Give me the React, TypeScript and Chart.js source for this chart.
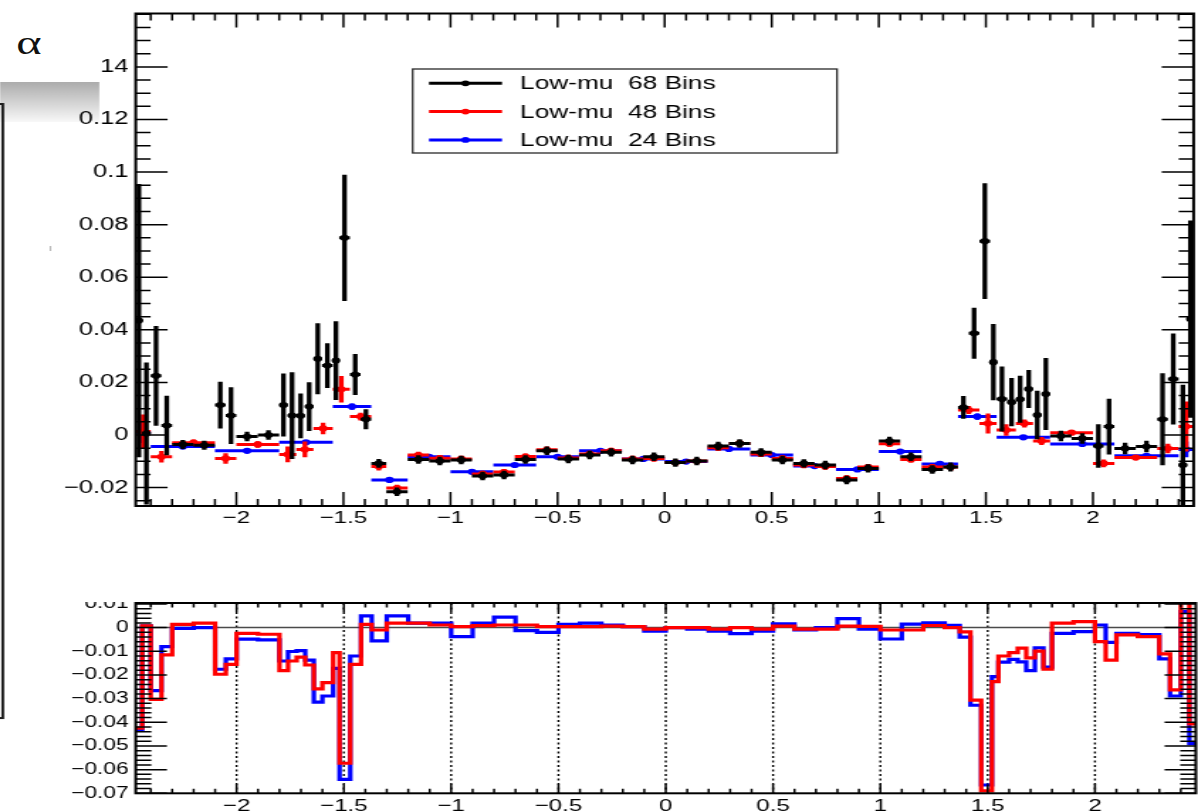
import React, { useEffect, useRef } from 'react';
import { Chart, registerables } from 'chart.js';

Chart.register(...registerables);

// ---------------- data ----------------
const seriesLabels = ['Low-mu  68 Bins', 'Low-mu  48 Bins', 'Low-mu  24 Bins'];
const seriesColors = ['#000000', '#ff0000', '#0000ff'];

const edges68 = [-2.47, -2.44, -2.4, -2.35, -2.3, -2.2, -2.1, -2.05, -2.0, -1.9, -1.8, -1.76, -1.72, -1.68, -1.64, -1.6, -1.55, -1.52, -1.47, -1.42, -1.37, -1.3, -1.2, -1.1, -1.0, -0.9, -0.8, -0.7, -0.6, -0.5, -0.4, -0.3, -0.2, -0.1, 0, 0.1, 0.2, 0.3, 0.4, 0.5, 0.6, 0.7, 0.8, 0.9, 1.0, 1.1, 1.2, 1.3, 1.37, 1.42, 1.47, 1.52, 1.55, 1.6, 1.64, 1.68, 1.72, 1.76, 1.8, 1.9, 2.0, 2.05, 2.1, 2.2, 2.3, 2.35, 2.4, 2.44, 2.47];
const values68 = [
  0.0435, 0.0006, 0.0225, 0.0036, -0.0036, -0.0039, 0.0114, 0.0074, -0.0006, 0.0,
  0.0114, 0.0074, 0.0073, 0.0108, 0.029, 0.0264, 0.0283, 0.075, 0.023, 0.006,
  -0.0108, -0.0216, -0.0093, -0.0099, -0.0095, -0.0156, -0.0152, -0.0093, -0.006, -0.0091,
  -0.0076, -0.0066, -0.0095, -0.0083, -0.0105, -0.0099, -0.0042, -0.0032, -0.0066, -0.0095,
  -0.0108, -0.0114, -0.0171, -0.0127, -0.0023, -0.0083, -0.0131, -0.0122, 0.0105, 0.0387,
  0.0737, 0.0277, 0.0137, 0.0125, 0.0136, 0.0175, 0.0076, 0.0156, -0.0004, -0.0013,
  -0.0042, 0.0032, -0.0051, -0.0044, 0.006, 0.0213, -0.0114, 0.0441,
];
const errors68 = [
  0.052, 0.027, 0.019, 0.0113, 0.0017, 0.0017, 0.0089, 0.0108, 0.0018, 0.0018,
  0.012, 0.0165, 0.0085, 0.0093, 0.0135, 0.0085, 0.015, 0.024, 0.0078, 0.0038,
  0.0017, 0.0016, 0.0016, 0.0016, 0.0016, 0.0016, 0.0016, 0.0016, 0.0016, 0.0016,
  0.0016, 0.0016, 0.0016, 0.0016, 0.0016, 0.0016, 0.0016, 0.0016, 0.0016, 0.0016,
  0.0016, 0.0016, 0.0016, 0.0016, 0.0016, 0.0016, 0.0016, 0.0017, 0.0043, 0.0097,
  0.022, 0.0145, 0.0124, 0.0092, 0.0089, 0.0072, 0.0092, 0.0137, 0.002, 0.002,
  0.0083, 0.0106, 0.0022, 0.0022, 0.0175, 0.0173, 0.0305, 0.0375,
];

const edges48 = [-2.47, -2.4, -2.3, -2.1, -2.0, -1.8, -1.72, -1.64, -1.55, -1.47, -1.37, -1.3, -1.2, -1.1, -1.0, -0.9, -0.8, -0.7, -0.6, -0.5, -0.4, -0.3, -0.2, -0.1, 0, 0.1, 0.2, 0.3, 0.4, 0.5, 0.6, 0.7, 0.8, 0.9, 1.0, 1.1, 1.2, 1.3, 1.37, 1.47, 1.55, 1.64, 1.72, 1.8, 2.0, 2.1, 2.3, 2.4, 2.47];
const values48 = [
  0.0013, -0.0083, -0.0029, -0.0089, -0.0036, -0.0074, -0.0055, 0.0025, 0.0174, 0.007,
  -0.012, -0.0202, -0.0076, -0.0088, -0.0091, -0.0148, -0.0141, -0.0082, -0.0056, -0.0087,
  -0.0072, -0.006, -0.0091, -0.0089, -0.0105, -0.0099, -0.0048, -0.0032, -0.0072, -0.0089,
  -0.0114, -0.012, -0.0165, -0.0122, -0.0033, -0.0093, -0.0122, -0.0122, 0.0095, 0.0044,
  0.0019, 0.0044, -0.0023, 0.0009, -0.0108, -0.0086, -0.0051, 0.0032,
];
const errors48 = [
  0.0065, 0.0022, 0.0012, 0.002, 0.0012, 0.003, 0.003, 0.0022, 0.005, 0.0015,
  0.0015, 0.0013, 0.0012, 0.0012, 0.0012, 0.0012, 0.0012, 0.0012, 0.0012, 0.0012,
  0.0012, 0.0012, 0.0012, 0.0012, 0.0012, 0.0012, 0.0012, 0.0012, 0.0012, 0.0012,
  0.0012, 0.0012, 0.0012, 0.0012, 0.0012, 0.0012, 0.0012, 0.0015, 0.0015, 0.0038,
  0.0022, 0.0015, 0.0015, 0.0008, 0.0015, 0.0008, 0.0018, 0.0095,
];

const edges24 = [-2.47, -2.4, -2.1, -1.8, -1.55, -1.37, -1.2, -1.0, -0.8, -0.6, -0.4, -0.2, 0, 0.2, 0.4, 0.6, 0.8, 1.0, 1.2, 1.37, 1.55, 1.8, 2.1, 2.4, 2.47];
const values24 = [
  0.001, -0.0044, -0.006, -0.0028, 0.0108, -0.0171, -0.0083, -0.014, -0.0114, -0.0083,
  -0.006, -0.0091, -0.0101, -0.0053, -0.0076, -0.0118, -0.0131, -0.0063, -0.011, 0.007,
  -0.0009, -0.0034, -0.0079, -0.0055,
];
const errors24 = [
  0.004, 0.0008, 0.0008, 0.0008, 0.0012, 0.0008, 0.0006, 0.0006, 0.0006, 0.0006,
  0.0006, 0.0006, 0.0006, 0.0006, 0.0006, 0.0006, 0.0006, 0.0006, 0.0008, 0.0012,
  0.0008, 0.0008, 0.0008, 0.003,
];

// lower panel: difference to the 68-bin result, on the 68-bin grid
const diffRed68 = [
  -0.0425, 0.0007, -0.0303, -0.0115, 0.0014, 0.0019, -0.0197, -0.0155, -0.0024, -0.0028,
  -0.0182, -0.0141, -0.0125, -0.0158, -0.0259, -0.0232, -0.0106, -0.0573, -0.0155, 0.0014,
  -0.001, 0.0019, 0.0019, 0.0011, 0.0004, 0.0008, 0.0011, 0.0011, 0.0004, 0.0004,
  0.0004, 0.0006, 0.0004, -0.0006, 0.0, 0.0, -0.0006, 0.0, -0.0006, 0.0006,
  -0.0006, -0.0006, 0.0006, 0.0005, -0.001, -0.001, 0.0009, 0.0, -0.0018, -0.0306,
  -0.069, -0.0228, -0.012, -0.0106, -0.0087, -0.0128, -0.0099, -0.0176, 0.0019, 0.0025,
  -0.0059, -0.0137, -0.0031, -0.0038, -0.0111, -0.0263, 0.0146, -0.0407,
];
const diffBlue68 = [
  -0.043, 0.0007, -0.0266, -0.008, -0.0003, 0.0, -0.0176, -0.0132, -0.0049, -0.0052,
  -0.0141, -0.0101, -0.0097, -0.0137, -0.0315, -0.0289, -0.0172, -0.0641, -0.012, 0.005,
  -0.0056, 0.005, 0.0019, 0.0019, -0.0038, 0.0019, 0.0044, -0.0013, -0.002, 0.0014,
  0.0019, 0.0011, 0.0004, -0.0015, 0.0, -0.0006, -0.0015, -0.0025, -0.0015, 0.0016,
  -0.001, 0.0, 0.0038, -0.0006, -0.0048, 0.0015, 0.002, 0.001, -0.004, -0.0328,
  -0.0665, -0.0207, -0.0146, -0.0134, -0.0145, -0.0182, -0.0085, -0.0167, -0.0024, -0.0017,
  0.0011, -0.0062, -0.0024, -0.003, -0.0132, -0.0289, 0.0068, -0.049,
];

const xTickValues = [-2, -1.5, -1, -0.5, 0, 0.5, 1, 1.5, 2];
const xTickLabels = ['\u22122', '\u22121.5', '\u22121', '\u22120.5', '0', '0.5', '1', '1.5', '2'];
const topYTickValues = [-0.02, 0, 0.02, 0.04, 0.06, 0.08, 0.1, 0.12, 0.14];
const topYTickLabels = ['\u22120.02', '0', '0.02', '0.04', '0.06', '0.08', '0.1', '0.12', '0.14'];
const botYTickValues = [-0.07, -0.06, -0.05, -0.04, -0.03, -0.02, -0.01, 0, 0.01];
const botYTickLabels = ['\u22120.07', '\u22120.06', '\u22120.05', '\u22120.04', '\u22120.03', '\u22120.02', '\u22120.01', '0', '0.01'];

const X_MIN = -2.47, X_MAX = 2.47;
const TOP_Y_MIN = -0.027, TOP_Y_MAX = 0.1603;
const BOT_Y_MIN = -0.07, BOT_Y_MAX = 0.0104;

// ---------------- geometry / style ----------------
const FONT = '"Liberation Sans", Arial, Helvetica, sans-serif';
const CW = 844;                    // internal drawing width
const STRETCH = 1198 / CW;         // the picture is stretched horizontally
const AREA_LEFT = 135.7 / STRETCH;
const AREA_RIGHT = 1195.8 / STRETCH;
const TOP_H = 560, TOP_AREA_TOP = 13.5, TOP_AREA_BOTTOM = 506;
const BOT_TOP = 602, BOT_H = 210, BOT_AREA_TOP = 1, BOT_AREA_BOTTOM = 793.3 - 602;

type BinPt = { x: number; y: number; xl: number; xh: number; e: number };

function binned(edges: number[], vals: number[], errs: number[]): BinPt[] {
  return vals.map((v, i) => ({ x: (edges[i] + edges[i + 1]) / 2, y: v, xl: edges[i], xh: edges[i + 1], e: errs[i] }));
}

function steps(edges: number[], vals: number[]) {
  const pts = vals.map((v, i) => ({ x: edges[i], y: v }));
  pts.push({ x: edges[edges.length - 1], y: vals[vals.length - 1] });
  return pts;
}

function range(min: number, max: number, step: number) {
  const out: number[] = [];
  for (let i = Math.ceil(min / step - 1e-7); i <= Math.floor(max / step + 1e-7); i++) out.push(i * step);
  return out;
}

function labelFor(values: number[], labels: string[]) {
  return (v: any) => {
    const i = values.findIndex((t) => Math.abs(t - Number(v)) < 1e-9);
    return i >= 0 ? labels[i] : '';
  };
}

const errorBarPlugin = {
  id: 'errorBars',
  beforeDatasetDraw(chart: any, args: any) {
    const ds = chart.data.datasets[args.index];
    if (!ds.binnedErrors) return;
    const { ctx, chartArea: a } = chart;
    const xs = chart.scales.x, ys = chart.scales.y;
    ctx.save();
    ctx.beginPath();
    ctx.rect(a.left, a.top, a.right - a.left, a.bottom - a.top);
    ctx.clip();
    ctx.strokeStyle = ds.borderColor;
    ctx.lineCap = 'butt';
    for (const p of ds.data as BinPt[]) {
      const px = xs.getPixelForValue(p.x);
      const py = ys.getPixelForValue(p.y);
      ctx.lineWidth = 3;
      ctx.beginPath();
      ctx.moveTo(xs.getPixelForValue(p.xl), py);
      ctx.lineTo(xs.getPixelForValue(p.xh), py);
      ctx.stroke();
      ctx.lineWidth = 3.3;
      ctx.beginPath();
      ctx.moveTo(px, ys.getPixelForValue(p.y - p.e));
      ctx.lineTo(px, ys.getPixelForValue(p.y + p.e));
      ctx.stroke();
    }
    ctx.restore();
  },
};

function drawLegend(chart: any) {
  const ctx = chart.ctx;
  const x0 = 412.7 / STRETCH, x1 = 837 / STRETCH, y0 = 69, y1 = 153;
  ctx.save();
  ctx.fillStyle = '#ffffff';
  ctx.fillRect(x0, y0, x1 - x0, y1 - y0);
  ctx.strokeStyle = '#2a2a2a';
  ctx.lineWidth = 1.3;
  ctx.strokeRect(x0, y0, x1 - x0, y1 - y0);
  const la = 429 / STRETCH, lb = 502 / STRETCH;
  chart.data.datasets.forEach((ds: any, i: number) => {
    const y = 83.3 + i * 28.3;
    ctx.strokeStyle = ds.borderColor;
    ctx.lineWidth = 3;
    ctx.beginPath();
    ctx.moveTo(la, y);
    ctx.lineTo(lb, y);
    ctx.stroke();
    ctx.fillStyle = ds.borderColor;
    ctx.beginPath();
    ctx.arc((la + lb) / 2, y, 2.9, 0, Math.PI * 2);
    ctx.fill();
    ctx.fillStyle = '#000000';
    ctx.font = `18.5px ${FONT}`;
    ctx.textBaseline = 'middle';
    ctx.textAlign = 'left';
    ctx.fillText(ds.label, 520 / STRETCH, y + 1);
  });
  ctx.restore();
}

function framePlugin(cfg: any) {
  return {
    id: 'rootFrame',
    beforeDatasetsDraw(chart: any) {
      if (!cfg.grid) return;
      const { ctx, chartArea: a } = chart;
      const xs = chart.scales.x, ys = chart.scales.y;
      ctx.save();
      ctx.strokeStyle = '#000000';
      ctx.lineWidth = 1.4;
      ctx.setLineDash([2, 2.5]);
      for (const v of cfg.xMajor) {
        const p = xs.getPixelForValue(v);
        ctx.beginPath();
        ctx.moveTo(p, a.top);
        ctx.lineTo(p, a.bottom);
        ctx.stroke();
      }
      ctx.setLineDash([]);
      ctx.strokeStyle = '#4a4a4a';
      ctx.lineWidth = 1.5;
      const z = ys.getPixelForValue(0);
      ctx.beginPath();
      ctx.moveTo(a.left, z);
      ctx.lineTo(a.right, z);
      ctx.stroke();
      ctx.restore();
    },
    afterDraw(chart: any) {
      const { ctx, chartArea: a } = chart;
      const xs = chart.scales.x, ys = chart.scales.y;
      ctx.save();
      ctx.strokeStyle = '#000000';
      ctx.lineWidth = 1.5;
      ctx.beginPath();
      const xTick = (v: number, len: number) => {
        const p = xs.getPixelForValue(v);
        ctx.moveTo(p, a.bottom); ctx.lineTo(p, a.bottom - len);
        ctx.moveTo(p, a.top); ctx.lineTo(p, a.top + len);
      };
      const yTick = (v: number, len: number) => {
        const p = ys.getPixelForValue(v);
        ctx.moveTo(a.left, p); ctx.lineTo(a.left + len, p);
        ctx.moveTo(a.right, p); ctx.lineTo(a.right - len, p);
      };
      range(xs.min, xs.max, cfg.xMinorStep).forEach((v) => xTick(v, cfg.xMinorLen));
      cfg.xMajor.forEach((v: number) => xTick(v, cfg.xMajorLen));
      range(ys.min, ys.max, cfg.yMinorStep).forEach((v) => yTick(v, cfg.yMinorLen));
      cfg.yMajor.forEach((v: number) => yTick(v, cfg.yMajorLen));
      ctx.stroke();
      ctx.lineWidth = 2;
      ctx.strokeRect(a.left, a.top, a.right - a.left, a.bottom - a.top);
      ctx.restore();
      if (cfg.legend) drawLegend(chart);
    },
  };
}

function axisX(labelPad: number, height: number) {
  return {
    type: 'linear',
    min: X_MIN,
    max: X_MAX,
    grid: { display: false, drawTicks: false },
    border: { display: false },
    ticks: {
      autoSkip: false,
      maxRotation: 0,
      padding: labelPad,
      color: '#000000',
      font: { family: FONT, size: 17 },
      callback: labelFor(xTickValues, xTickLabels),
    },
    afterBuildTicks: (s: any) => { s.ticks = xTickValues.map((v) => ({ value: v })); },
    afterFit: (s: any) => { s.height = height; s.paddingLeft = 0; s.paddingRight = 0; },
  };
}

function axisY(min: number, max: number, values: number[], labels: string[], size: number) {
  return {
    type: 'linear',
    min,
    max,
    grid: { display: false, drawTicks: false },
    border: { display: false },
    ticks: {
      autoSkip: false,
      padding: 5,
      color: '#000000',
      font: { family: FONT, size },
      callback: labelFor(values, labels),
    },
    afterBuildTicks: (s: any) => { s.ticks = values.map((v) => ({ value: v })); },
    afterFit: (s: any) => { s.width = AREA_LEFT; s.paddingTop = 0; s.paddingBottom = 0; },
  };
}

function pointSet(label: string, color: string, data: BinPt[]) {
  return {
    label,
    data,
    binnedErrors: true,
    borderColor: color,
    backgroundColor: color,
    pointRadius: 3.1,
    pointHoverRadius: 3.1,
    pointBorderWidth: 0,
    pointBackgroundColor: color,
    showLine: false,
  };
}

export default function App() {
  const topRef = useRef<HTMLCanvasElement>(null);
  const botRef = useRef<HTMLCanvasElement>(null);

  useEffect(() => {
    const top = new Chart(topRef.current as HTMLCanvasElement, {
      type: 'scatter',
      data: {
        datasets: [
          pointSet(seriesLabels[0], seriesColors[0], binned(edges68, values68, errors68)),
          pointSet(seriesLabels[1], seriesColors[1], binned(edges48, values48, errors48)),
          pointSet(seriesLabels[2], seriesColors[2], binned(edges24, values24, errors24)),
        ] as any,
      },
      options: {
        animation: false,
        responsive: false,
        devicePixelRatio: 1,
        events: [],
        layout: { padding: { left: 0, right: CW - AREA_RIGHT, top: TOP_AREA_TOP, bottom: 0 } },
        plugins: { legend: { display: false }, tooltip: { enabled: false } },
        scales: {
          x: axisX(2, TOP_H - TOP_AREA_BOTTOM),
          y: axisY(TOP_Y_MIN, TOP_Y_MAX, topYTickValues, topYTickLabels, 18),
        } as any,
      },
      plugins: [
        errorBarPlugin,
        framePlugin({
          xMajor: xTickValues, xMinorStep: 0.1, xMajorLen: 14, xMinorLen: 7,
          yMajor: topYTickValues, yMinorStep: 0.005, yMajorLen: 22.5, yMinorLen: 10.5,
          grid: false, legend: true,
        }),
      ],
    } as any);

    const bot = new Chart(botRef.current as HTMLCanvasElement, {
      type: 'line',
      data: {
        datasets: [
          {
            label: seriesLabels[1] + ' diff',
            data: steps(edges68, diffRed68),
            borderColor: seriesColors[1],
            borderWidth: 3.2,
            pointRadius: 0,
            stepped: 'before',
            fill: false,
          },
          {
            label: seriesLabels[2] + ' diff',
            data: steps(edges68, diffBlue68),
            borderColor: seriesColors[2],
            borderWidth: 3.2,
            pointRadius: 0,
            stepped: 'before',
            fill: false,
          },
        ] as any,
      },
      options: {
        animation: false,
        responsive: false,
        devicePixelRatio: 1,
        events: [],
        layout: { padding: { left: 0, right: CW - AREA_RIGHT, top: BOT_AREA_TOP, bottom: 0 } },
        plugins: { legend: { display: false }, tooltip: { enabled: false } },
        scales: {
          x: axisX(2.5, BOT_H - BOT_AREA_BOTTOM),
          y: axisY(BOT_Y_MIN, BOT_Y_MAX, botYTickValues, botYTickLabels, 16),
        } as any,
      },
      plugins: [
        framePlugin({
          xMajor: xTickValues, xMinorStep: 0.1, xMajorLen: 9, xMinorLen: 4.5,
          yMajor: botYTickValues, yMinorStep: 0.002, yMajorLen: 22, yMinorLen: 11,
          grid: true, legend: false,
        }),
      ],
    } as any);

    return () => {
      top.destroy();
      bot.destroy();
    };
  }, []);

  return (
    <div style={{ position: 'absolute', left: 0, top: 0, width: 1198, height: 812, overflow: 'hidden', background: '#ffffff' }}>
      <div style={{ position: 'absolute', left: 0, top: 0, width: CW, height: 812, transform: `scaleX(${STRETCH})`, transformOrigin: '0 0' }}>
        <div style={{ position: 'absolute', left: 0, top: 82, width: 100 / STRETCH, height: 40, background: 'linear-gradient(#acacac, #f8f8f8)' }} />
        <div style={{ position: 'absolute', left: -20, top: 103, width: 23, height: 616, border: '2px solid #1c1c1c', boxSizing: 'border-box' }} />
        <div style={{ position: 'absolute', left: 50 / STRETCH, top: 246, width: 1, height: 5, background: '#aaaaaa' }} />
        <canvas ref={topRef} width={CW} height={TOP_H} style={{ position: 'absolute', left: 0, top: 0, width: CW, height: TOP_H }} />
        <canvas ref={botRef} width={CW} height={BOT_H} style={{ position: 'absolute', left: 0, top: BOT_TOP, width: CW, height: BOT_H }} />
        <div style={{ position: 'absolute', left: 0, top: 0, width: 100 / STRETCH, height: 82, background: '#ffffff' }}>
          <span style={{ position: 'absolute', left: 11.5, top: 26, fontFamily: '"Liberation Serif", "DejaVu Serif", serif', fontSize: 34, lineHeight: '34px', color: '#111111' }}>α</span>
        </div>
      </div>
    </div>
  );
}
